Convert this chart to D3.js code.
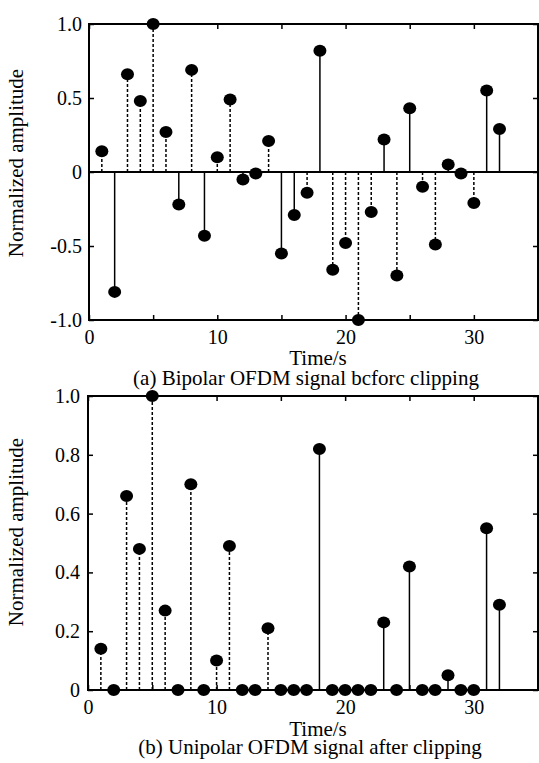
<!DOCTYPE html>
<html>
<head>
<meta charset="utf-8">
<script src="https://cdn.jsdelivr.net/npm/d3@7"></script>
<style>
  html, body { margin: 0; padding: 0; background: #fff; }
  svg { display: block; }
</style>
</head>
<body>
<svg id="chart" width="539" height="763"></svg>
<script>
// ---- Data ----
const times = [1,2,3,4,5,6,7,8,9,10,11,12,13,14,15,16,17,18,19,20,21,22,23,24,25,26,27,28,29,30,31,32];
const bipolarValues = [0.14,-0.81,0.66,0.48,1.0,0.27,-0.22,0.69,-0.43,0.10,0.49,-0.05,-0.01,0.21,-0.55,-0.29,
                       -0.14,0.82,-0.66,-0.48,-1.0,-0.27,0.22,-0.70,0.43,-0.10,-0.49,0.05,-0.01,-0.21,0.55,0.29];
const unipolarValues = [0.14,0,0.66,0.48,1.0,0.27,0,0.70,0,0.10,0.49,0,0,0.21,0,0,
                        0,0.82,0,0,0,0,0.23,0,0.42,0,0,0.05,0,0,0.55,0.29];
// stem line style per sample: 1 = dashed, 0 = solid
const bipolarDashed = [1,0,1,1,1,1,0,1,0,1,1,0,0,1,0,0,1,0,1,1,1,1,0,1,0,1,1,0,1,1,0,0];
const unipolarDashed = [1,0,1,1,1,1,0,1,0,1,1,0,0,1,0,0,0,0,0,0,0,0,0,0,0,0,0,0,0,0,0,0];
const xTickValues = [0,5,10,15,20,25,30];
const xTickLabels = ["0","","10","","20","","30"];
const bipolarYTicks = [-1.0,-0.5,0,0.5,1.0];
const bipolarYLabels = ["-1.0","-0.5","0","0.5","1.0"];
const unipolarYTicks = [0,0.2,0.4,0.6,0.8,1.0];
const unipolarYLabels = ["0","0.2","0.4","0.6","0.8","1.0"];
const xAxisTitle = "Time/s";
const yAxisTitle = "Normalized amplitude";
const captions = ["(a) Bipolar OFDM signal bcforc clipping", "(b) Unipolar OFDM signal after clipping"];

const FONT = "'Liberation Serif', 'DejaVu Serif', serif";
const svg = d3.select("#chart");

function setFont(sel, size) {
  sel.attr("style", `font-family: ${FONT}; font-size: ${size}px; fill: #000;`);
}

function panel(cfg) {
  const g = svg.append("g");
  const x = d3.scaleLinear().domain([0, 35]).range([cfg.left, cfg.right]);
  const y = d3.scaleLinear().domain(cfg.yDomain).range([cfg.bottom, cfg.top]);

  const fmtX = (d) => xTickLabels[xTickValues.indexOf(d)];
  const fmtY = (d) => cfg.yLabels[cfg.yTicks.indexOf(d)];

  const ax = g.append("g").attr("transform", `translate(0,${cfg.bottom})`)
    .call(d3.axisBottom(x).tickValues(xTickValues).tickFormat(fmtX).tickSizeInner(-5).tickSizeOuter(0).tickPadding(7));
  ax.select(".domain").remove();
  ax.selectAll("text").attr("dy", null).attr("y", 24).call(setFont, 20);
  ax.selectAll("line").attr("stroke-width", 1.5);

  const at = g.append("g").attr("transform", `translate(0,${cfg.top})`)
    .call(d3.axisTop(x).tickValues(xTickValues).tickFormat("").tickSizeInner(-5).tickSizeOuter(0));
  at.select(".domain").remove();
  at.selectAll("line").attr("stroke-width", 1.5);

  const al = g.append("g").attr("transform", `translate(${cfg.left},0)`)
    .call(d3.axisLeft(y).tickValues(cfg.yTicks).tickFormat(fmtY).tickSizeInner(-5).tickSizeOuter(0).tickPadding(cfg.yPad));
  al.select(".domain").remove();
  al.selectAll("text").call(setFont, 20);
  al.selectAll("line").attr("stroke-width", 1.5);

  const ar = g.append("g").attr("transform", `translate(${cfg.right},0)`)
    .call(d3.axisRight(y).tickValues(cfg.yTicks).tickFormat("").tickSizeInner(-5).tickSizeOuter(0));
  ar.select(".domain").remove();
  ar.selectAll("line").attr("stroke-width", 1.5);

  g.append("rect")
    .attr("x", cfg.left).attr("y", cfg.top)
    .attr("width", cfg.right - cfg.left).attr("height", cfg.bottom - cfg.top)
    .attr("fill", "none").attr("stroke", "#000").attr("stroke-width", 2);

  g.append("line")
    .attr("x1", cfg.left).attr("x2", cfg.right)
    .attr("y1", y(0)).attr("y2", y(0))
    .attr("stroke", "#000").attr("stroke-width", 2);

  const pts = times.map((t, i) => ({ t, v: cfg.values[i], dashed: cfg.dashed[i] }));

  g.selectAll("line.stem").data(pts).enter().append("line")
    .attr("class", "stem")
    .attr("x1", d => x(d.t)).attr("x2", d => x(d.t))
    .attr("y1", y(0)).attr("y2", d => y(d.v))
    .attr("stroke", "#000").attr("stroke-width", 1.5)
    .attr("stroke-dasharray", d => d.dashed ? "3,2" : null);

  g.selectAll("ellipse.mk").data(pts).enter().append("ellipse")
    .attr("class", "mk")
    .attr("cx", d => x(d.t)).attr("cy", d => y(d.v))
    .attr("rx", 6.5).attr("ry", 6)
    .attr("fill", "#000");

  g.append("text")
    .attr("x", 318).attr("y", cfg.xTitleY)
    .attr("text-anchor", "middle")
    .call(setFont, 21)
    .text(xAxisTitle);
  g.append("text")
    .attr("transform", `translate(${cfg.yTitleX},${cfg.yTitleY}) rotate(-90)`)
    .attr("text-anchor", "middle")
    .attr("dy", "0.35em")
    .call(setFont, 21)
    .text(yAxisTitle);
  g.append("text")
    .attr("x", cfg.captionX).attr("y", cfg.captionY)
    .attr("text-anchor", "middle")
    .call(setFont, 21)
    .text(cfg.caption);
}

panel({
  left: 89, right: 538, top: 24, bottom: 320,
  yDomain: [-1, 1], yTicks: bipolarYTicks, yLabels: bipolarYLabels, yPad: 7,
  values: bipolarValues, dashed: bipolarDashed,
  xTitleY: 365, yTitleX: 16, yTitleY: 163,
  caption: captions[0], captionX: 306, captionY: 385
});

panel({
  left: 88, right: 538, top: 396, bottom: 690,
  yDomain: [0, 1], yTicks: unipolarYTicks, yLabels: unipolarYLabels, yPad: 8,
  values: unipolarValues, dashed: unipolarDashed,
  xTitleY: 736, yTitleX: 16, yTitleY: 532,
  caption: captions[1], captionX: 310, captionY: 754
});
</script>
</body>
</html>
